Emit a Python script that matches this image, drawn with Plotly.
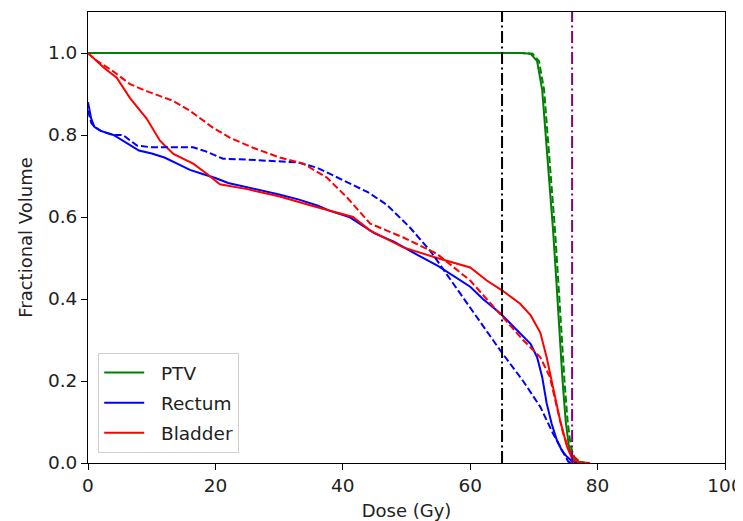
import plotly.graph_objects as go

# dose (Gy) / fractional volume
ptv_dose = [0, 68, 69.5, 70.5, 71.3, 71.8, 72.4, 73.0, 73.5, 74.0, 74.5, 75.0, 75.5, 76.0, 76.5, 78.0]
ptv_vol = [1.0, 1.0, 0.998, 0.98, 0.91, 0.81, 0.70, 0.57, 0.45, 0.32, 0.20, 0.10, 0.04, 0.015, 0.005, 0.0]
ptv2_dose = [0, 68, 69.8, 70.8, 71.6, 72.1, 72.7, 73.3, 73.8, 74.3, 74.8, 75.3, 75.8, 76.3, 76.8, 78.0]
ptv2_vol = [1.0, 1.0, 0.998, 0.98, 0.91, 0.81, 0.70, 0.57, 0.45, 0.32, 0.20, 0.10, 0.04, 0.015, 0.005, 0.0]

rect_dose = [0, 0.5, 1, 2, 4, 6, 8, 10, 12, 14, 16, 18, 20, 22, 25, 28, 30, 33, 36, 38, 41, 43, 45, 48, 50, 52,
             55, 57, 60, 62, 64.7, 66, 68, 69.5, 70.5, 71.3, 72, 72.8, 73.6, 74.4, 75.2, 76, 77]
rect_vol = [0.88, 0.84, 0.82, 0.81, 0.80, 0.78, 0.762, 0.755, 0.745, 0.73, 0.715, 0.705, 0.695, 0.683, 0.673,
            0.663, 0.655, 0.643, 0.628, 0.615, 0.60, 0.58, 0.56, 0.54, 0.522, 0.505, 0.48, 0.46, 0.43, 0.40,
            0.365, 0.345, 0.315, 0.29, 0.258, 0.21, 0.146, 0.095, 0.056, 0.03, 0.015, 0.004, 0.0]
rect2_dose = [0, 0.5, 1, 2, 3.9, 5.5, 7.7, 10, 13, 16.5, 18.5, 21.2, 25, 28.6, 33, 36, 38, 41.6, 44, 46.9, 50.5,
              53.7, 57.3, 61, 64.7, 68.3, 71, 73, 74.6, 75.4, 76]
rect2_vol = [0.86, 0.83, 0.82, 0.81, 0.80, 0.80, 0.774, 0.77, 0.77, 0.77, 0.76, 0.742, 0.74, 0.737, 0.733, 0.72,
             0.705, 0.68, 0.66, 0.63, 0.575, 0.518, 0.438, 0.355, 0.275, 0.20, 0.137, 0.072, 0.024, 0.003, 0.0]

blad_dose = [0, 1, 2.4, 4.5, 6.6, 9.2, 11.3, 13.4, 16.5, 18.7, 20.7, 25, 30.1, 35, 41.6, 44.3, 49.5, 54.8, 60,
             62.6, 65.1, 67.8, 69.5, 71, 72, 73, 74.1, 75.2, 76.1, 77, 78.8]
blad_vol = [1.0, 0.985, 0.965, 0.94, 0.89, 0.84, 0.786, 0.754, 0.73, 0.705, 0.68, 0.668, 0.65, 0.628, 0.60,
            0.567, 0.526, 0.50, 0.477, 0.445, 0.42, 0.389, 0.36, 0.318, 0.258, 0.185, 0.105, 0.04, 0.007, 0.002,
            0.0]
blad2_dose = [0, 1, 3, 3.9, 6.6, 9.2, 13.4, 16, 19.6, 22.3, 25.9, 30.1, 33.8, 37.5, 40.7, 44.3, 49.5, 54.8, 60,
              65.1, 68.3, 71, 72.5, 73.6, 74.6, 75.7, 77.2, 78]
blad2_vol = [1.0, 0.985, 0.965, 0.956, 0.924, 0.907, 0.883, 0.859, 0.818, 0.793, 0.769, 0.745, 0.73, 0.696,
             0.647, 0.584, 0.55, 0.51, 0.445, 0.355, 0.30, 0.258, 0.21, 0.137, 0.072, 0.024, 0.003, 0.0]

dose_lines = [65, 76]
dose_line_colors = ["black", "#800080"]

DASH = "7px,3px"
DASHDOT = "12px,3.5px,2px,3.5px"
FS = 18.5
LW = 2
NB = "\u00a0\u00a0"

fig = go.Figure()
fig.add_trace(go.Scatter(x=ptv_dose, y=ptv_vol, mode="lines", name=NB + "PTV", legendgroup="a",
                         line=dict(color="#008000", width=LW)))
fig.add_trace(go.Scatter(x=rect_dose, y=rect_vol, mode="lines", name=NB + "Rectum", legendgroup="b",
                         line=dict(color="#0000ff", width=LW)))
fig.add_trace(go.Scatter(x=blad_dose, y=blad_vol, mode="lines", name=NB + "Bladder", legendgroup="c",
                         line=dict(color="#ff0000", width=LW)))
fig.add_trace(go.Scatter(x=ptv2_dose, y=ptv2_vol, mode="lines", showlegend=False,
                         line=dict(color="#008000", width=LW, dash=DASH)))
fig.add_trace(go.Scatter(x=rect2_dose, y=rect2_vol, mode="lines", showlegend=False,
                         line=dict(color="#0000ff", width=LW, dash=DASH)))
fig.add_trace(go.Scatter(x=blad2_dose, y=blad2_vol, mode="lines", showlegend=False,
                         line=dict(color="#ff0000", width=LW, dash=DASH)))

for d, c in zip(dose_lines, dose_line_colors):
    fig.add_shape(type="line", xref="x", yref="y domain", x0=d, x1=d, y0=0, y1=1,
                  line=dict(color=c, width=LW, dash=DASHDOT))

axis_style = dict(showgrid=False, zeroline=False, showline=True, linecolor="black", linewidth=1,
                  mirror=True, ticks="outside", ticklen=6, tickcolor="black", automargin=False,
                  tickfont=dict(size=FS, color="#222222"), ticklabeloverflow="allow")

fig.update_xaxes(range=[0, 100], tickvals=[0, 20, 40, 60, 80, 100],
                 title=dict(text="Dose (Gy)", font=dict(size=18, color="#222222"), standoff=9), **axis_style)
fig.update_yaxes(range=[0, 1.1], tickvals=[0, 0.2, 0.4, 0.6, 0.8, 1.0], tickformat=".1f",
                 title=dict(text="Fractional Volume", font=dict(size=18, color="#222222"), standoff=10),
                 **axis_style)

fig.update_layout(
    width=735, height=513,
    margin=dict(l=80, r=18, t=4, b=58),
    plot_bgcolor="white", paper_bgcolor="white",
    font=dict(family="DejaVu Sans", color="#222222"),
    legend=dict(x=0.016, y=0.022, xanchor="left", yanchor="bottom",
                bgcolor="rgba(255,255,255,0.8)", bordercolor="#d0d0d0", borderwidth=1,
                font=dict(size=FS), itemwidth=40, tracegroupgap=3),
)

fig.write_html("out.html")
